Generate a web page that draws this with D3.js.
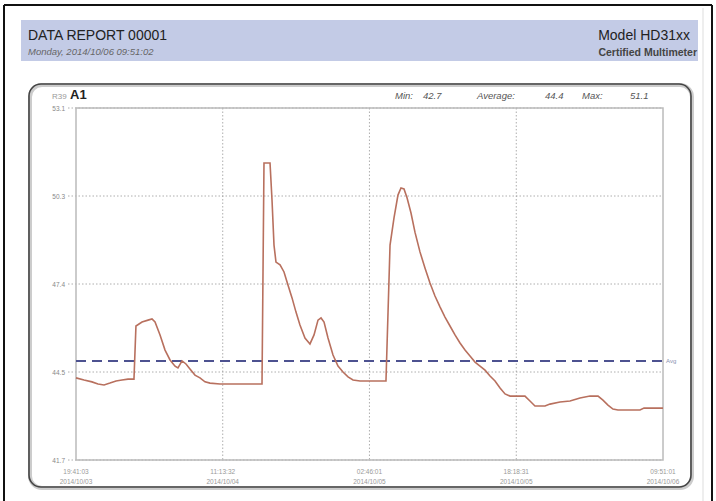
<!DOCTYPE html>
<html>
<head>
<meta charset="utf-8">
<script src="https://cdn.jsdelivr.net/npm/d3@7"></script>
<style>
body { margin: 0; background: #fff; }
text { font-family: "Liberation Sans", Arial, sans-serif; }
</style>
</head>
<body>
<script>
var w = 716;
var h = 501;

// hours since first sample, reading in the chart units
var hours = [0, 0.85, 1.69, 2.33, 2.97, 3.60, 4.24, 4.87, 5.51, 6.14, 6.35, 6.99, 7.63, 8.05, 8.37, 8.90, 9.43, 9.96, 10.49, 10.80,
	11.23, 11.65, 12.07, 12.60, 13.13, 13.66, 14.19, 15.25, 17.37, 19.70, 19.91, 20.55, 20.76, 20.97, 21.18, 21.61, 22.03, 22.45, 22.88, 23.30,
	23.72, 24.25, 24.78, 25.21, 25.63, 25.95, 26.27, 26.69, 27.22, 27.75, 28.28, 28.81, 29.34, 30.08, 32.83, 33.26, 33.68, 34.10, 34.42, 34.74,
	35.06, 35.48, 35.90, 36.43, 36.96, 37.49, 38.02, 38.55, 39.08, 39.61, 40.14, 40.67, 41.20, 41.73, 42.26, 42.79, 43.32, 43.85, 44.38, 44.91,
	45.44, 45.97, 47.55, 48.08, 48.61, 49.67, 50.20, 51.26, 52.32, 53.38, 54.44, 55.29, 55.81, 56.34, 56.87, 57.40, 59.73, 60.16, 62.17];
var values = [44.36, 44.29, 44.23, 44.16, 44.13, 44.19, 44.26, 44.29, 44.32, 44.32, 46.04, 46.17, 46.23, 46.27, 46.17, 45.75, 45.26, 44.94, 44.74, 44.68,
	44.91, 44.81, 44.65, 44.45, 44.36, 44.23, 44.19, 44.16, 44.16, 44.16, 51.32, 51.32, 50.12, 48.66, 48.11, 48.02, 47.79, 47.37, 46.95, 46.49,
	46.07, 45.65, 45.46, 45.75, 46.23, 46.30, 46.17, 45.65, 45.10, 44.74, 44.55, 44.39, 44.29, 44.26, 44.26, 48.66, 49.54, 50.28, 50.51, 50.48,
	50.19, 49.70, 49.08, 48.44, 47.92, 47.43, 47.01, 46.66, 46.33, 46.04, 45.75, 45.49, 45.26, 45.07, 44.87, 44.74, 44.61, 44.42, 44.26, 44.03,
	43.84, 43.77, 43.77, 43.61, 43.45, 43.45, 43.51, 43.58, 43.61, 43.71, 43.77, 43.77, 43.64, 43.48, 43.35, 43.32, 43.32, 43.38, 43.38];

var avgLine = 44.91;
var yTicks = [53.1, 50.25, 47.4, 44.55, 41.7];
var xTicks = [0, 15.54, 31.08, 46.63, 62.17];
var xTimeLabels = ["19:41:03", "11:13:32", "02:46:01", "18:18:31", "09:51:01"];
var xDateLabels = ["2014/10/03", "2014/10/04", "2014/10/05", "2014/10/05", "2014/10/06"];
var stats = [["Min:", "42.7"], ["Average:", "44.4"], ["Max:", "51.1"]];

var svg = d3.select("body").append("svg")
	.attr("width", w)
	.attr("height", h);

// page frame
svg.append("line").attr("x1", 4).attr("x2", 712).attr("y1", 5).attr("y2", 5).attr("stroke", "#111").attr("stroke-width", 2);
svg.append("line").attr("x1", 4).attr("x2", 4).attr("y1", 5).attr("y2", h).attr("stroke", "#111").attr("stroke-width", 2);
svg.append("line").attr("x1", 712).attr("x2", 712).attr("y1", 5).attr("y2", h).attr("stroke", "#111").attr("stroke-width", 2);
svg.append("line").attr("x1", 703).attr("x2", 703).attr("y1", 8).attr("y2", h).attr("stroke", "#ddd").attr("stroke-width", 1);

// header band
svg.append("rect").attr("x", 21).attr("y", 20).attr("width", 677).attr("height", 41).attr("fill", "#c3cbe6");
svg.append("text").attr("x", 28).attr("y", 40).attr("font-size", 14).attr("fill", "#222").text("DATA REPORT 00001");
svg.append("text").attr("x", 28).attr("y", 55).attr("font-size", 9.5).attr("font-style", "italic").attr("fill", "#666")
	.text("Monday, 2014/10/06  09:51:02");
svg.append("text").attr("x", 690).attr("y", 40).attr("text-anchor", "end").attr("font-size", 14).attr("fill", "#222").text("Model HD31xx");
svg.append("text").attr("x", 697).attr("y", 56).attr("text-anchor", "end").attr("font-size", 10.5).attr("font-weight", "bold").attr("fill", "#444")
	.text("Certified Multimeter");

// chart panel
svg.append("rect").attr("x", 30).attr("y", 85).attr("width", 662).attr("height", 403).attr("rx", 12)
	.attr("fill", "none").attr("stroke", "#ccc").attr("stroke-width", 4);
svg.append("rect").attr("x", 29).attr("y", 84).attr("width", 662).attr("height", 403).attr("rx", 12)
	.attr("fill", "none").attr("stroke", "#444").attr("stroke-width", 1.6);

svg.append("text").attr("x", 52).attr("y", 99).attr("font-size", 8).attr("fill", "#999").attr("font-family", "Liberation Serif").text("R39");
svg.append("text").attr("x", 70).attr("y", 99).attr("font-size", 13).attr("font-weight", "bold").attr("fill", "#222").text("A1");

var statX = [395, 423, 477, 545, 582, 630];
stats.forEach(function(s, i){
	svg.append("text").attr("x", statX[i*2]).attr("y", 99).attr("font-size", 9.5).attr("font-style", "italic").attr("fill", "#555").text(s[0]);
	svg.append("text").attr("x", statX[i*2+1]).attr("y", 99).attr("font-size", 9.5).attr("font-style", "italic").attr("fill", "#555").text(s[1]);
});

var margin = {left: 76, right: 663, top: 108, bottom: 460};
var x = d3.scaleLinear().domain([0, 62.17]).range([margin.left, margin.right]);
var y = d3.scaleLinear().domain([41.7, 53.1]).range([margin.bottom, margin.top]);

// grid
svg.selectAll(".hgrid").data(yTicks).enter().append("line")
	.attr("class", "hgrid")
	.attr("x1", margin.left - 8).attr("x2", margin.right)
	.attr("y1", function(d){ return y(d); }).attr("y2", function(d){ return y(d); })
	.attr("stroke", "#999").attr("stroke-width", 0.8).attr("stroke-dasharray", "1.5,2");
svg.selectAll(".vgrid").data(xTicks.slice(1, 4)).enter().append("line")
	.attr("class", "vgrid")
	.attr("x1", function(d){ return x(d); }).attr("x2", function(d){ return x(d); })
	.attr("y1", margin.top).attr("y2", margin.bottom)
	.attr("stroke", "#999").attr("stroke-width", 0.8).attr("stroke-dasharray", "1.5,2");

// plot border
svg.append("rect").attr("x", margin.left).attr("y", margin.top)
	.attr("width", margin.right - margin.left).attr("height", margin.bottom - margin.top)
	.attr("fill", "none").attr("stroke", "#bbb").attr("stroke-width", 1.5);

svg.selectAll(".ylab").data(yTicks).enter().append("text")
	.attr("class", "ylab")
	.attr("x", 65).attr("y", function(d){ return y(d) + 2.5; })
	.attr("text-anchor", "end").attr("font-size", 6.5).attr("fill", "#888")
	.attr("font-family", "Liberation Mono")
	.text(function(d){ return d3.format(".1f")(d); });

svg.selectAll(".xlab1").data(xTicks).enter().append("text")
	.attr("class", "xlab1")
	.attr("x", function(d){ return x(d); }).attr("y", 474)
	.attr("text-anchor", "middle").attr("font-size", 6.5).attr("fill", "#999")
	.attr("font-family", "Liberation Mono")
	.text(function(d, i){ return xTimeLabels[i]; });
svg.selectAll(".xlab2").data(xTicks).enter().append("text")
	.attr("class", "xlab2")
	.attr("x", function(d){ return x(d); }).attr("y", 484)
	.attr("text-anchor", "middle").attr("font-size", 6.5).attr("fill", "#999")
	.attr("font-family", "Liberation Mono")
	.text(function(d, i){ return xDateLabels[i]; });

// average
svg.append("line").attr("x1", margin.left).attr("x2", margin.right)
	.attr("y1", y(avgLine)).attr("y2", y(avgLine))
	.attr("stroke", "#4d5290").attr("stroke-width", 2).attr("stroke-dasharray", "10,6");
svg.append("text").attr("x", margin.right + 3).attr("y", y(avgLine) + 2).attr("font-size", 6).attr("fill", "#8890b0").text("Avg");

// data line
var line = d3.line()
	.x(function(d){ return x(d[0]); })
	.y(function(d){ return y(d[1]); });
svg.append("path")
	.datum(d3.zip(hours, values))
	.attr("d", line)
	.attr("fill", "none")
	.attr("stroke", "#b8705e")
	.attr("stroke-width", 1.6);
</script>
</body>
</html>
